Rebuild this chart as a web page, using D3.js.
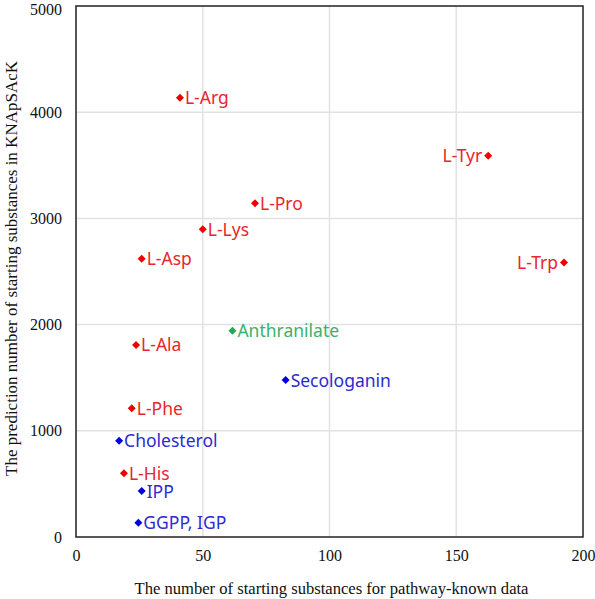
<!DOCTYPE html>
<html><head><meta charset="utf-8">
<script src="https://cdn.jsdelivr.net/npm/d3@7"></script>
<style>body{margin:0;background:#fff}</style>
</head><body>
<script>
const names = ["L-Arg","L-Tyr","L-Pro","L-Lys","L-Asp","L-Trp","Anthranilate","L-Ala","Secologanin","L-Phe","Cholesterol","L-His","IPP","GGPP, IGP"];
const xVals = [41, 162.6, 70.6, 50, 25.9, 192.5, 61.7, 23.7, 82.7, 22, 17, 18.9, 25.9, 24.6];
const yVals = [4137, 3590, 3142, 2897, 2621, 2585, 1943, 1808, 1478, 1212, 907, 600, 433, 135];
const groups = ["amino","amino","amino","amino","amino","amino","green","amino","blue","amino","blue","amino","blue","blue"];
const labelLeft = ["L-Tyr","L-Trp"];
const xTicks = [0,50,100,150,200];
const yTicks = [0,1000,2000,3000,4000,5000];

const markerColor = {amino:"#ee0000", green:"#1faa55", blue:"#0000e6"};
const textColor = {amino:"#e8262b", green:"#3cb16a", blue:"#2b2bd0"};

const W=595,H=599, m={l:76,t:6,r:12,b:62};
const svg=d3.select("body").append("svg").attr("width",W).attr("height",H);
const x=d3.scaleLinear().domain([0,200]).range([m.l,W-m.r]);
const y=d3.scaleLinear().domain([0,5000]).range([H-m.b,m.t]);

const g=svg.append("g");
g.selectAll(".vg").data(xTicks.slice(1,-1)).join("line")
 .attr("x1",d=>x(d)).attr("x2",d=>x(d)).attr("y1",y(0)).attr("y2",y(5000))
 .attr("stroke","#e2e2e2").attr("stroke-width",1.5);
g.selectAll(".hg").data(yTicks.slice(1,-1)).join("line")
 .attr("x1",x(0)).attr("x2",x(200)).attr("y1",d=>y(d)).attr("y2",d=>y(d))
 .attr("stroke","#e2e2e2").attr("stroke-width",1.5);
g.append("rect").attr("x",x(0)).attr("y",y(5000)).attr("width",x(200)-x(0)).attr("height",y(0)-y(5000))
 .attr("fill","none").attr("stroke","#222").attr("stroke-width",1.5);

const xa=svg.append("g").attr("transform",`translate(0,${y(0)})`)
 .call(d3.axisBottom(x).tickValues(xTicks).tickSize(0).tickPadding(13).tickFormat(d3.format("d")));
const ya=svg.append("g").attr("transform",`translate(${x(0)},0)`)
 .call(d3.axisLeft(y).tickValues(yTicks).tickSize(0).tickPadding(14).tickFormat(d3.format("d")));
[xa,ya].forEach(a=>{a.select(".domain").remove();a.selectAll("text").attr("font-family","Liberation Serif, Times New Roman, serif").attr("font-size",16).attr("fill","#111");});
ya.selectAll(".tick text").filter(d=>d===5000).attr("dy","0.5em");

svg.append("text").attr("x",(x(0)+x(200))/2+2).attr("y",594).attr("text-anchor","middle")
 .attr("font-family","Liberation Serif, Times New Roman, serif").attr("font-size",16.6).attr("fill","#111")
 .text("The number of starting substances for pathway-known data");
svg.append("text").attr("transform",`translate(17,${(y(0)+y(5000))/2-3}) rotate(-90)`).attr("text-anchor","middle")
 .attr("font-family","Liberation Serif, Times New Roman, serif").attr("font-size",17).attr("fill","#111")
 .text("The prediction number of starting substances in KNApSAcK");

const data=names.map((n,i)=>({n,x:xVals[i],y:yVals[i],g:groups[i]}));
const r=4;
svg.selectAll(".pt").data(data).join("path")
 .attr("d",`M0,${-r}L${r},0L0,${r}L${-r},0Z`)
 .attr("transform",d=>`translate(${x(d.x)},${y(d.y)})`)
 .attr("fill",d=>markerColor[d.g]);
svg.selectAll(".lb").data(data).join("text")
 .attr("x",d=>labelLeft.includes(d.n)? x(d.x)-6 : x(d.x)+5)
 .attr("y",d=>y(d.y)+6.5)
 .attr("text-anchor",d=>labelLeft.includes(d.n)?"end":"start")
 .attr("font-family","Noto Sans, DejaVu Sans, sans-serif").attr("font-size",17.5)
 .attr("fill",d=>textColor[d.g]).text(d=>d.n);
</script>
</body></html>
